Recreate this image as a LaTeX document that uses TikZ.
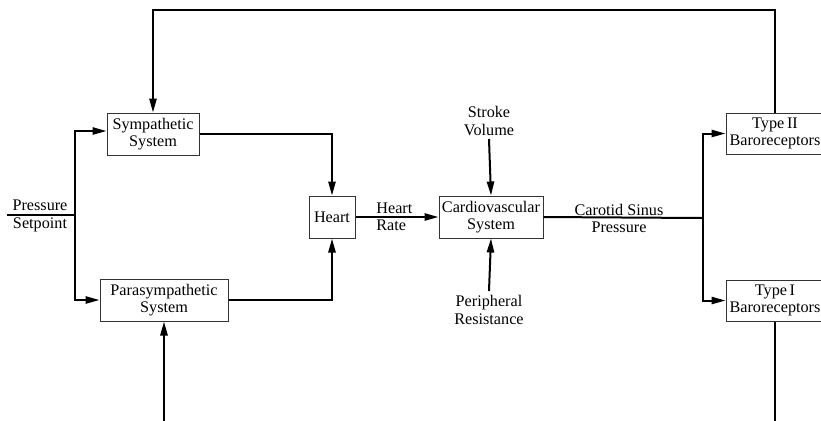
\documentclass[tikz,border=0pt]{standalone}
\usepackage{fontspec}
\setmainfont{Liberation Serif}
\usetikzlibrary{arrows.meta}
\begin{document}
\begin{tikzpicture}[x=0.5pt,y=-0.5pt,
  font=\fontsize{8.1}{8.6}\selectfont,
  box/.style={draw=black!80,line width=0.5pt,inner sep=0pt,align=center,fill=white},
  lbl/.style={inner sep=0pt,align=center},
  wire/.style={line width=1pt},
  arr/.style={line width=1pt,-{Triangle[length=7pt,width=3.6pt]}}]
\useasboundingbox (0,0) rectangle (821,420);
\clip (0,0) rectangle (821,420);
% boxes
\node[box,minimum width=46pt,minimum height=21pt] (symp) at (153,134) {Sympathetic\\System};
\node[box,minimum width=64pt,minimum height=21pt] (para) at (164,300) {Parasympathetic\\System};
\node[box,minimum width=23pt,minimum height=21pt] (heart) at (332,217) {Heart};
\node[box,minimum width=52pt,minimum height=21pt] (cardio) at (491,217) {Cardiovascular\\System};
\node[box,minimum width=49pt,minimum height=20.5pt] (t2) at (775,133.5) {Type\,II\\Baroreceptors};
\node[box,minimum width=49pt,minimum height=20.5pt] (t1) at (775,300.5) {Type\,I\\Baroreceptors};
% labels
\node[lbl] (psl) at (40,216) {Pressure\\Setpoint};
\node[lbl,align=left,anchor=west] (hrl) at (376,217) {Heart\\Rate};
\node[lbl] (svl) at (489,121) {Stroke\\Volume};
\node[lbl] (prl) at (489,310) {Peripheral\\Resistance};
\node[lbl] (csl) at (619,218.5) {Carotid Sinus\\Pressure};
% coordinates
\coordinate (psin) at (7,215);
\coordinate (j1) at (75,215);
\coordinate (j2) at (703,218);
\coordinate (svs) at (489,139);
\coordinate (prs) at (489,291);
\coordinate (topR) at (775,10);
\coordinate (topL) at (153,10);
\coordinate (botR) at (775,425);
\coordinate (botL) at (164,425);
% connectors
\draw[wire] (psin) -- (j1);
\draw[arr] (j1) |- ([yshift=1.5pt]symp.west);
\draw[arr] (j1) |- (para.west);
\draw[arr] (symp.east) -| (heart.north);
\draw[arr] (para.east) -| (heart.south);
\draw[arr] (heart.east) -- (cardio.west);
\draw[arr] (svs) -- (cardio.north);
\draw[arr] (prs) -- (cardio.south);
\draw[wire] (cardio.east) -- (j2);
\draw[arr] (j2) |- (t2.west);
\draw[arr] (j2) |- (t1.west);
\draw[arr] (t2.north) -- (topR) -- (topL) -- (symp.north);
\draw[wire] (t1.south) -- (botR);
\draw[arr] (botL) -- (para.south);
\end{tikzpicture}
\end{document}
